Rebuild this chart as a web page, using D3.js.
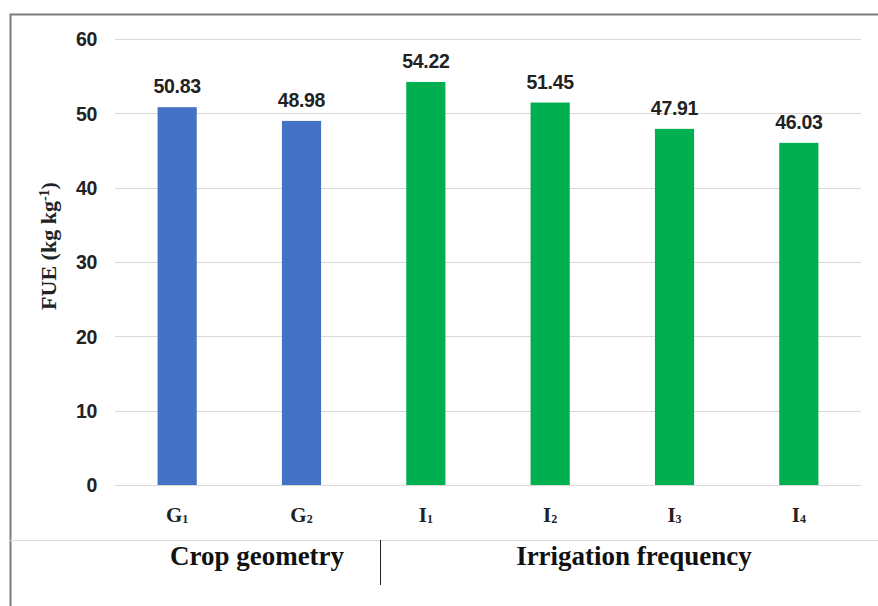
<!DOCTYPE html>
<html>
<head>
<meta charset="utf-8">
<script src="https://cdn.jsdelivr.net/npm/d3@7"></script>
<style>
  html, body { margin: 0; padding: 0; background: #fff; }
  svg { display: block; }
</style>
</head>
<body>
<svg id="chart" width="878" height="606"></svg>
<script>
// Fertilizer use efficiency by treatment
const categories = ["G1", "G2", "I1", "I2", "I3", "I4"];
const categoryMain = ["G", "G", "I", "I", "I", "I"];
const categorySub = ["1", "2", "1", "2", "3", "4"];
const values = [50.83, 48.98, 54.22, 51.45, 47.91, 46.03];
const groups = ["Crop geometry", "Crop geometry", "Irrigation frequency", "Irrigation frequency", "Irrigation frequency", "Irrigation frequency"];
const groupNames = ["Crop geometry", "Irrigation frequency"];
const yTicks = [0, 10, 20, 30, 40, 50, 60];

const colorByGroup = { "Crop geometry": "#4472C4", "Irrigation frequency": "#00B050" };

const svg = d3.select("#chart");
const W = 878, H = 606;

const plot = { left: 115, right: 861, top: 39, bottom: 485 };

const x = d3.scaleBand()
  .domain(categories)
  .range([plot.left, plot.right])
  .paddingInner(0.685)
  .paddingOuter(0.3425);

const y = d3.scaleLinear().domain([0, 60]).range([plot.bottom, plot.top]);

// outer frame
svg.append("path")
  .attr("d", `M10.5,${H} L10.5,14.5 L${W},14.5`)
  .attr("fill", "none")
  .attr("stroke", "#7a7a7a")
  .attr("stroke-width", 2);

// gridlines
svg.append("g")
  .selectAll("line")
  .data(yTicks)
  .join("line")
  .attr("x1", plot.left).attr("x2", plot.right)
  .attr("y1", d => Math.round(y(d)) + 0.5).attr("y2", d => Math.round(y(d)) + 0.5)
  .attr("stroke", "#d9d9d9")
  .attr("stroke-width", 1.2);

// y axis tick labels
const yAxis = d3.axisLeft(y).tickValues(yTicks).tickSize(0).tickPadding(0);
const yg = svg.append("g")
  .attr("transform", `translate(97,0)`)
  .call(yAxis);
yg.select(".domain").remove();
yg.selectAll("text")
  .attr("font-family", "'Liberation Sans', Arial, sans-serif")
  .attr("font-weight", "bold")
  .attr("font-size", 19.5)
  .attr("letter-spacing", -0.3)
  .attr("fill", "#222")
  .attr("dy", "0.35em");

// y axis title
const yt = svg.append("text")
  .attr("transform", `translate(56,246) rotate(-90)`)
  .attr("text-anchor", "middle")
  .attr("font-family", "'Liberation Serif', 'Times New Roman', serif")
  .attr("font-weight", "bold")
  .attr("font-size", 22)
  .attr("fill", "#222");
yt.append("tspan").text("FUE (kg kg");
yt.append("tspan").attr("baseline-shift", "super").attr("font-size", 14).text("-1");
yt.append("tspan").text(")");

// bars
svg.append("g")
  .selectAll("rect")
  .data(values)
  .join("rect")
  .attr("x", (d, i) => x(categories[i]))
  .attr("width", x.bandwidth())
  .attr("y", d => y(d))
  .attr("height", d => y(0) - y(d))
  .attr("fill", (d, i) => colorByGroup[groups[i]]);

// value labels
svg.append("g")
  .selectAll("text")
  .data(values)
  .join("text")
  .attr("x", (d, i) => x(categories[i]) + x.bandwidth() / 2)
  .attr("y", d => y(d) - 14)
  .attr("text-anchor", "middle")
  .attr("font-family", "'Liberation Sans', Arial, sans-serif")
  .attr("font-weight", "bold")
  .attr("font-size", 19.5)
  .attr("letter-spacing", -0.3)
  .attr("fill", "#222")
  .text(d => d.toFixed(2));

// category labels with subscripts
const cl = svg.append("g")
  .selectAll("text")
  .data(categories)
  .join("text")
  .attr("x", d => x(d) + x.bandwidth() / 2)
  .attr("y", 522)
  .attr("text-anchor", "middle")
  .attr("font-family", "'Liberation Serif', 'Times New Roman', serif")
  .attr("font-weight", "bold")
  .attr("font-size", 21)
  .attr("fill", "#222");
cl.append("tspan").text((d, i) => categoryMain[i]);
cl.append("tspan").attr("font-size", 12).attr("dy", 1).text((d, i) => categorySub[i]);

// group axis: separator line and group titles
svg.append("line")
  .attr("x1", 10).attr("x2", W)
  .attr("y1", 540.5).attr("y2", 540.5)
  .attr("stroke", "#d9d9d9")
  .attr("stroke-width", 1.2);

svg.append("line")
  .attr("x1", 380.5).attr("x2", 380.5)
  .attr("y1", 540).attr("y2", 585)
  .attr("stroke", "#222")
  .attr("stroke-width", 1);

const groupCenters = [257, 634];
svg.append("g")
  .selectAll("text")
  .data(groupNames)
  .join("text")
  .attr("x", (d, i) => groupCenters[i])
  .attr("y", 565)
  .attr("text-anchor", "middle")
  .attr("font-family", "'Liberation Serif', 'Times New Roman', serif")
  .attr("font-weight", "bold")
  .attr("font-size", 27)
  .attr("fill", "#111")
  .text(d => d);
</script>
</body>
</html>
